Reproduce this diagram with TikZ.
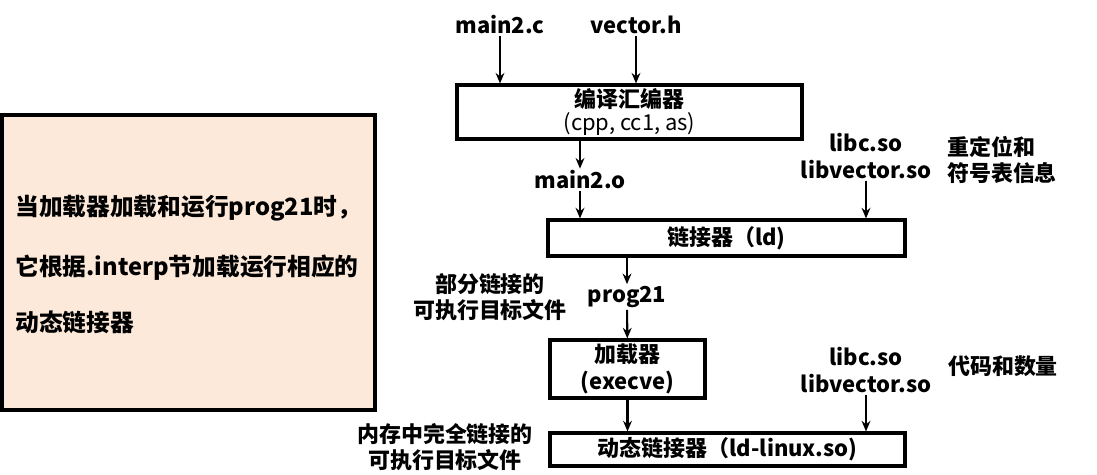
\documentclass[tikz,border=0pt]{standalone}
\usepackage{fontspec}
\setmainfont{Noto Sans CJK SC}
\usepackage{xcolor}
\usetikzlibrary{arrows.meta, positioning}
\definecolor{peach}{HTML}{FCE9DA}
\tikzset{
  procbox/.style={
    rectangle, draw=black, line width=1.8pt, fill=white,
    align=center, font=\fontsize{12.5}{15}\selectfont\bfseries, inner sep=2pt
  },
  notebox/.style={
    rectangle, draw=black, line width=1.8pt, fill=peach,
    minimum width=7.46cm, minimum height=5.9cm
  },
  label/.style={font=\fontsize{12.5}{15}\selectfont\bfseries, inner sep=1pt, align=center},
  notetext/.style={font=\fontsize{13.5}{16}\selectfont\bfseries, anchor=west, inner sep=0pt},
  arrow/.style={-{Stealth[length=6pt, width=5pt]}, line width=1.2pt, black}
}
\begin{document}
\begin{tikzpicture}[x=0.02cm, y=-0.02cm]
  \useasboundingbox (0,0) rectangle (1097,475);

  % note on the left
  \node[notebox] (note) at (188.5,262.5) {};
  \node[notetext] (l1) at (15,208) {当加载器加载和运行prog21时，};
  \node[notetext] (l2) at (15,268) {它根据.interp节加载运行相应的};
  \node[notetext] (l3) at (15,322) {动态链接器};

  % inputs
  \node[label] (mainc) at (500,25) {main2.c};
  \node[label] (vech)  at (636,25) {vector.h};

  \node[procbox, minimum width=6.9cm, minimum height=1.04cm] (comp) at (629.5,112)
        {编译汇编器\\[-2pt] \normalfont (cpp, cc1, as)};

  \node[label] (maino) at (580,180) {main2.o};

  \node[label] (libs1) at (866,156) {libc.so\\libvector.so};
  \node[label, align=left] (reloc) at (1002,160) {重定位和\\符号表信息};

  \node[procbox, minimum width=7.14cm, minimum height=0.72cm] (ld) at (726.5,238)
        {链接器（ld)};

  \node[label] (prog) at (627,297) {prog21};
  \node[label] (part) at (490,297) {部分链接的\\可执行目标文件};

  \node[procbox, minimum width=3.1cm, minimum height=1.16cm] (load) at (627.5,369)
        {加载器\\(execve)};

  \node[label] (libs2) at (866,370) {libc.so\\libvector.so};
  \node[label] (code) at (1003,366) {代码和数量};

  \node[procbox, minimum width=7.1cm, minimum height=0.66cm] (dyn) at (727.5,449.5)
        {动态链接器（ld-linux.so)};
  \node[label] (full) at (445,447) {内存中完全链接的\\可执行目标文件};

  \draw[arrow] (mainc) -- (mainc |- comp.north);
  \draw[arrow] (vech)  -- (vech |- comp.north);
  \draw[arrow] (comp.south -| maino) -- (maino);
  \draw[arrow] (maino) -- (maino |- ld.north);
  \draw[arrow] (libs1) -- (libs1 |- ld.north);
  \draw[arrow] (ld.south -| prog) -- (prog);
  \draw[arrow] (prog) -- (load);
  \draw[arrow] (load) -- (load |- dyn.north);
  \draw[arrow] (libs2) -- (libs2 |- dyn.north);

\end{tikzpicture}
\end{document}
